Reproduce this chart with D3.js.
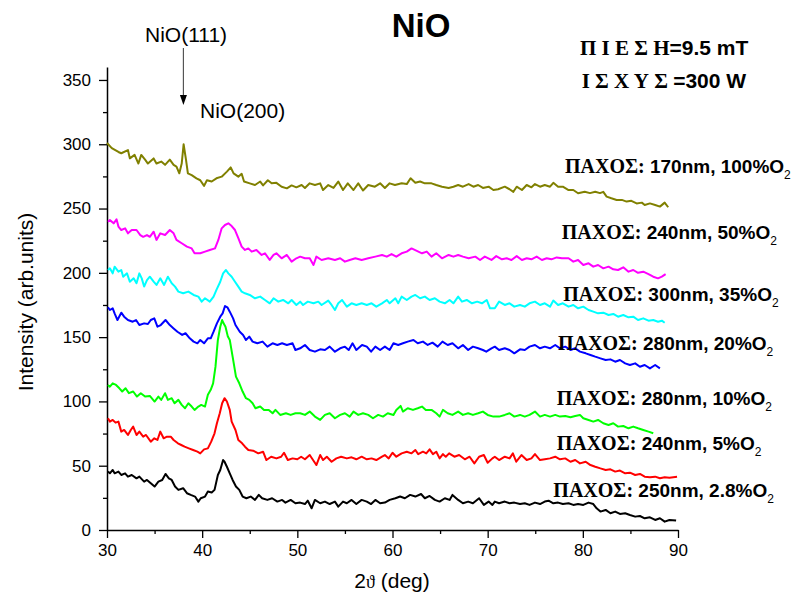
<!DOCTYPE html>
<html>
<head>
<meta charset="utf-8">
<script src="https://cdn.jsdelivr.net/npm/d3@7"></script>
<style>
  html, body { margin: 0; padding: 0; background: #fff; }
  svg { display: block; }
</style>
</head>
<body>
<svg id="chart" width="796" height="600"></svg>
<script>
// ---------- DATA ----------
const xTicks = [30, 40, 50, 60, 70, 80, 90];
const yTicks = [0, 50, 100, 150, 200, 250, 300, 350];

const seriesNames = ["100%O2", "50%O2", "35%O2", "20%O2", "10%O2", "5%O2", "2.8%O2"];
const seriesColors = ["#808000", "#ff00ff", "#00ffff", "#0000ff", "#00ff00", "#ff0000", "#000000"];
const thickness = ["170nm", "240nm", "300nm", "280nm", "280nm", "240nm", "250nm"];
const oxygen = ["100%", "50%", "35%", "20%", "10%", "5%", "2.8%"];

const olive = [[30.0,301],[30.5,297],[31.2,294],[31.5,293],[32.2,295.5],[32.4,289],[32.9,291.7],[33.3,285],[33.6,291.7],[34.0,288],[34.3,285],[34.9,289],[35.2,285],[35.7,286.5],[36.1,284],[36.6,288],[37.0,284],[37.3,282.6],[37.6,277.4],[37.85,285],[38.05,300],[38.3,288],[38.5,277.4],[38.9,276],[39.4,273.5],[39.8,272],[40.2,267.6],[40.5,272],[41.0,271],[41.5,273.5],[42.05,274.8],[42.6,278.7],[43.0,282],[43.3,277.4],[43.8,274.8],[44.15,277],[44.4,271],[45.0,269.6],[45.55,268.3],[46.1,271],[46.4,268],[46.9,272],[47.3,269.6],[47.8,270],[48.35,267],[48.9,265.7],[49.4,268],[49.9,266.5],[50.45,268.3],[50.8,266],[51.3,269.6],[51.85,268.3],[52.4,269.6],[52.7,264.4],[53.25,268.3],[53.8,266],[54.3,271],[54.8,264.4],[55.3,269.6],[55.9,264.4],[56.4,269.6],[56.9,264],[57.45,268.3],[58.15,267],[58.7,269.6],[59.2,266],[59.7,269.6],[60.26,268.3],[60.96,269.6],[61.5,269],[61.9,273.5],[62.4,270],[62.9,271],[63.4,269.6],[64.1,269.6],[64.6,268.3],[65.2,267],[65.9,266],[66.4,267],[66.9,268.3],[67.4,267],[68.0,269],[68.5,267],[69.0,268.3],[69.5,266],[70.1,267],[70.6,264.4],[71.1,265],[71.8,267],[72.3,265],[72.7,263],[73.05,267],[73.6,264.4],[74.1,268.3],[74.6,266.5],[74.97,269],[75.5,267],[76.0,268.3],[76.55,267],[76.9,270],[77.4,267],[77.9,267],[78.5,264.4],[79.0,264.4],[79.5,261.9],[80.2,263],[80.75,262],[81.3,263],[81.8,262],[82.15,263],[82.5,259.3],[83.0,258],[83.55,256.7],[84.1,256.7],[84.6,255.4],[85.1,256],[85.65,254],[86.2,254.6],[86.5,252.8],[87.05,254],[87.6,252.8],[88.1,251.5],[88.6,254.6],[88.97,251]];

const magenta = [[30.1,239.8],[30.3,241],[30.7,238.5],[31.0,241.6],[31.2,236],[31.5,233.3],[31.9,234.6],[32.2,230.7],[32.6,233.3],[33.1,233.3],[33.5,229.4],[33.8,228],[34.2,229.4],[34.5,228],[34.9,232],[35.2,225.6],[35.6,230.7],[36.1,229.4],[36.6,233.3],[37.0,230.7],[37.3,225.6],[37.85,223],[38.4,220.4],[38.9,219],[39.2,215.2],[39.8,215.2],[40.3,216.5],[40.8,217.8],[41.35,219],[41.7,225.6],[42.05,234.6],[42.4,237.2],[42.75,238.5],[43.1,236.4],[43.45,233.3],[43.8,226.9],[44.15,220.4],[44.5,217.8],[44.85,219],[45.2,216.5],[45.7,217.8],[46.25,213.9],[46.6,215.2],[47.1,210],[47.5,213.9],[47.8,215.2],[48.35,211.3],[48.9,213.9],[49.4,208.7],[49.9,211.3],[50.3,212.6],[50.8,211.3],[51.3,211.3],[51.7,206.1],[52.0,212.6],[52.55,210],[53.25,211.3],[53.95,210],[54.5,211.3],[55.0,208.7],[55.5,210],[56.1,211.3],[56.76,210],[57.45,211.3],[58.2,212.6],[58.9,213.9],[59.4,212.6],[59.9,214.6],[60.4,212.6],[60.96,215.2],[61.5,216.5],[62.0,219],[62.5,217.3],[63.1,215.2],[63.6,216.5],[64.1,212.6],[64.6,215.2],[65.2,211.3],[65.9,213.9],[66.4,212.6],[66.9,213.9],[67.4,212.6],[68.0,211.3],[68.7,212.6],[69.2,210],[69.7,212.6],[70.4,210],[70.9,213],[71.5,210.5],[72.0,211.3],[72.5,210],[73.05,213],[73.6,210],[74.1,211.3],[74.6,210.5],[75.15,212.6],[75.7,210],[76.2,211.3],[76.7,210.5],[77.25,212],[77.8,211.3],[78.5,211.3],[79.0,208.7],[79.5,210],[80.05,206.1],[80.6,207.4],[81.1,204.8],[81.6,206.1],[82.15,203.5],[82.7,204.8],[83.2,202.7],[83.7,202.2],[84.25,204.3],[84.8,200.9],[85.3,202.2],[85.8,200],[86.35,200.9],[86.9,199],[87.4,197],[87.9,195.7],[88.3,197],[88.7,199]];

const cyan = [[30.1,202.2],[30.3,203.5],[30.6,199.6],[30.8,204.8],[31.2,200.9],[31.5,202.2],[31.7,197],[32.1,199.6],[32.4,193.1],[32.8,195.7],[33.1,191.9],[33.4,199.6],[33.65,195.7],[33.9,189.3],[34.2,194.4],[34.5,197],[34.9,193.1],[35.2,190.6],[35.6,195.7],[36.0,190.6],[36.4,197],[36.8,191.9],[37.15,189.3],[37.5,185.4],[38.0,184.1],[38.55,185.4],[39.1,182.8],[39.6,181.5],[39.95,177.6],[40.3,180.2],[40.8,177.6],[41.2,181.5],[41.5,186.7],[41.9,193.1],[42.2,199.6],[42.5,202.2],[42.75,199.6],[43.1,197],[43.45,193.1],[43.8,189.3],[44.15,185.4],[44.5,184.1],[45.0,182.8],[45.55,180.2],[46.1,181.5],[46.6,178.9],[47.1,176.3],[47.5,180.2],[48.0,177.6],[48.5,178.9],[49.05,176.3],[49.4,178.9],[49.9,175],[50.3,177.6],[50.6,175],[51.1,177.6],[51.7,176.3],[52.2,177.6],[52.55,175],[53.25,178.4],[53.6,175],[53.95,171.1],[54.3,176.3],[54.7,178.9],[55.2,173.7],[55.7,176.3],[56.2,175],[56.76,176.3],[57.3,175],[57.8,176.3],[58.3,173.7],[58.9,176.3],[59.4,178.9],[59.7,176.3],[60.3,180.2],[60.6,176.3],[60.96,181.5],[61.5,178.9],[62.0,181.5],[62.4,182.8],[62.9,180.2],[63.4,181.5],[63.9,178.9],[64.45,180.2],[64.95,177.6],[65.5,176.3],[66.0,178.9],[66.4,176.3],[66.9,181.5],[67.3,177.6],[67.8,178.9],[68.35,176.3],[68.9,177.6],[69.4,176.3],[69.9,178.9],[70.25,172.4],[70.75,172.4],[71.2,177.6],[71.8,175],[72.3,176.3],[72.8,173.7],[73.4,175],[73.9,173.7],[74.4,176.3],[74.97,177.6],[75.5,175],[76.0,176.3],[76.55,173.7],[76.9,178.4],[77.4,175],[77.9,176.3],[78.5,173.7],[79.0,175],[79.5,172.4],[80.05,173.7],[80.6,171.1],[81.1,169.8],[81.6,168.5],[82.15,169],[82.7,167.2],[83.2,168],[83.7,165.9],[84.25,167.2],[84.8,165.4],[85.3,165.9],[85.8,163.3],[86.35,164.6],[86.9,162.8],[87.4,163.3],[87.9,162],[88.3,162.8],[88.6,161.2]];

const blue = [[30.1,173.2],[30.3,171.1],[30.6,172.4],[30.8,168.5],[31.1,163.3],[31.5,169],[31.8,165.9],[32.2,163.3],[32.7,162],[33.05,163.3],[33.4,159.4],[33.9,160.7],[34.3,160.2],[34.6,163.3],[34.97,164.6],[35.3,158.1],[35.65,159.4],[36.15,163.3],[36.6,159.4],[37.0,156.8],[37.4,154.2],[37.9,151.7],[38.25,153],[38.7,149.1],[39.1,146.5],[39.5,145.2],[39.8,147.8],[40.2,145.2],[40.6,149.1],[40.9,149.1],[41.2,154.2],[41.55,160.7],[41.9,165.9],[42.15,168.5],[42.4,174.2],[42.65,173.2],[42.9,169.8],[43.25,164.6],[43.5,159.4],[43.95,154.2],[44.3,151.7],[44.6,147.8],[44.95,150.4],[45.3,146.5],[45.8,145.2],[46.35,146.5],[46.85,142.6],[47.4,145.2],[47.9,143.9],[48.4,145.2],[48.9,143.9],[49.5,145.2],[49.8,140],[50.3,141.3],[50.8,143.9],[51.3,140],[51.85,138.7],[52.4,140.5],[52.9,140],[53.4,142.6],[53.95,138.7],[54.5,141.3],[55.0,142.6],[55.4,140],[55.8,145.2],[56.2,140],[56.8,143.9],[57.3,142.6],[57.75,138.7],[58.2,142.6],[58.7,140],[59.2,142.6],[59.7,140],[60.1,145.2],[60.6,143.9],[61.1,145.2],[61.6,146.5],[62.2,147.8],[62.65,145.2],[63.2,146.5],[63.7,143.9],[64.2,145.7],[64.75,142.6],[65.25,146.5],[65.8,143.9],[66.3,145.2],[66.9,141.3],[67.4,143.9],[67.95,140],[68.45,142.6],[69.0,141.3],[69.5,140],[69.85,138.7],[70.4,141.3],[70.75,142.6],[71.2,140],[71.8,141.3],[72.3,140],[72.8,137.4],[73.4,140.5],[73.9,140],[74.4,142.6],[74.97,143.9],[75.5,141.3],[76.0,142.6],[76.55,141.3],[77.1,143.9],[77.6,141.3],[78.15,142.6],[78.7,140],[79.2,141.3],[79.7,138.7],[80.3,137.4],[80.8,136.1],[81.3,134.8],[81.85,133.5],[82.4,132.2],[82.9,132.7],[83.4,130.9],[83.9,132.2],[84.45,129.6],[84.95,128.3],[85.5,129.6],[86.0,127],[86.5,128.3],[87.05,125.7],[87.6,128.3],[88.1,125.7]];

const green = [[30.1,112.8],[30.3,111.5],[30.6,114.1],[30.95,112.8],[31.3,110.2],[31.6,107.7],[31.95,110.2],[32.3,106.4],[32.75,107.7],[33.15,103.8],[33.55,106.4],[34.0,103.8],[34.5,104.3],[35.0,99.9],[35.4,103.8],[35.7,101.2],[36.1,106.4],[36.4,101.2],[36.8,102.5],[37.1,98.6],[37.5,101.2],[37.85,97.3],[38.2,94.7],[38.55,98.6],[38.9,96],[39.2,93.4],[39.6,96],[39.9,97.3],[40.3,96],[40.6,105.1],[40.9,109],[41.15,114.1],[41.4,127],[41.65,147.8],[41.9,158.1],[42.1,163.3],[42.25,160.7],[42.45,158.1],[42.7,150.4],[42.9,147.8],[43.2,134.8],[43.55,119.3],[43.9,114.1],[44.25,107.7],[44.6,102.5],[44.95,101.2],[45.3,98.6],[45.6,94.7],[46.1,96],[46.5,93.4],[47.0,93.4],[47.4,90.8],[47.7,93.4],[48.2,89.5],[48.8,90.8],[49.3,89.5],[49.8,90.8],[50.3,90.8],[50.8,89.5],[51.3,92.1],[51.85,88.2],[52.4,85.6],[52.9,89.5],[53.4,90.8],[53.95,86.9],[54.5,89.5],[55.0,90.8],[55.5,88.2],[55.9,92.1],[56.4,89.5],[56.9,90.8],[57.45,89.5],[57.95,86.9],[58.5,89.5],[59.0,88.2],[59.5,90.8],[60.1,89.5],[60.4,93.4],[60.85,96.5],[61.1,92.1],[61.6,94.7],[62.15,93.4],[62.65,94.7],[63.1,96],[63.5,93.4],[64.1,93.4],[64.6,90.8],[64.95,88.2],[65.3,93.4],[65.8,90.8],[66.3,89.5],[66.9,92.1],[67.4,89.5],[67.95,90.8],[68.45,89.5],[69.0,90.8],[69.5,92.1],[70.0,89.5],[70.6,88.2],[71.2,88.2],[71.8,89.5],[72.3,90.8],[72.8,88.2],[73.4,89.5],[73.9,88.2],[74.4,89.5],[74.97,92.1],[75.5,88.2],[76.0,89.5],[76.55,88.2],[77.1,89.5],[77.6,88.2],[78.15,88.7],[78.7,87.7],[79.2,88.7],[79.7,89.5],[80.05,86.9],[80.6,85.6],[81.1,84.3],[81.6,85.6],[82.15,83],[82.7,81.7],[83.2,83],[83.7,80.4],[84.25,80.9],[84.8,79.1],[85.3,80.4],[85.8,79.1],[86.35,77.8],[86.9,76.5],[87.4,75.2]];

const red = [[30.1,86.9],[30.3,84.3],[30.6,85.6],[30.9,83.5],[31.2,84.3],[31.5,76.5],[31.8,77.8],[32.2,73.9],[32.5,77.8],[32.75,80.4],[33.1,73.9],[33.4,76.5],[33.8,72.6],[34.1,73.9],[34.6,68.7],[34.97,71.3],[35.3,70],[35.6,76.5],[35.95,71.3],[36.3,72.6],[36.7,72.6],[37.0,70],[37.45,67.4],[37.8,66.1],[38.15,64.8],[38.6,63.5],[39.05,62.2],[39.5,60.9],[39.8,59.6],[40.2,62.7],[40.6,63.5],[40.95,68.7],[41.3,75.2],[41.55,83],[41.85,90.8],[42.1,98.6],[42.35,102.5],[42.6,99.9],[42.9,93.4],[43.1,84.3],[43.5,77.8],[43.8,70],[44.2,67.4],[44.5,64.8],[44.85,62.2],[45.35,61.7],[45.9,59.6],[46.4,60.9],[46.75,54.4],[47.25,57],[47.8,55.7],[48.3,57],[48.6,60.1],[49.0,54.4],[49.5,55.7],[50.0,55],[50.4,57],[50.8,55],[51.3,58.3],[51.65,54.4],[52.0,50.5],[52.4,58.3],[52.7,54.4],[53.1,57],[53.6,53.1],[54.1,55.7],[54.6,57],[55.2,55.7],[55.7,56.5],[56.2,55],[56.76,57],[57.3,55],[57.8,55.7],[58.3,54.4],[58.9,57],[59.2,58.3],[59.6,55.7],[60.0,60.1],[60.4,57],[60.96,59.6],[61.5,60.9],[62.0,59.6],[62.4,62.2],[62.7,59],[63.2,60.9],[63.55,59.6],[63.9,62.7],[64.25,59],[64.6,60.9],[64.95,55.7],[65.3,59],[65.6,57],[65.95,59.6],[66.5,57],[67.0,58.3],[67.6,55],[68.1,57],[68.6,51.8],[69.1,57],[69.6,58.3],[70.0,52.3],[70.5,55.7],[70.75,57],[71.2,54.4],[71.8,57],[72.3,55.7],[72.65,59.6],[73.0,53.1],[73.55,58.3],[74.1,54.4],[74.6,55.7],[74.97,59],[75.5,54.4],[76.0,55],[76.55,55.7],[77.1,57],[77.6,55],[78.15,55.7],[78.7,53.1],[79.2,54.4],[79.7,51.8],[80.3,53.1],[80.8,50.5],[81.3,49.2],[81.85,47.9],[82.4,46.7],[82.9,47.2],[83.4,45.4],[83.9,46.2],[84.45,44.1],[84.95,44.6],[85.5,42.8],[86.0,43.6],[86.5,41.5],[87.05,41],[87.6,41.5],[88.1,40.2],[88.6,41],[89.1,40.7],[89.9,41.5]];

const black = [[30.1,45.4],[30.3,44.1],[30.6,46.7],[30.8,44.1],[31.2,45.4],[31.5,42.8],[31.9,44.1],[32.2,41.5],[32.6,42.8],[33.1,40.2],[33.4,41.5],[33.9,37.6],[34.2,38.9],[34.6,36.3],[35.0,33.8],[35.4,37.6],[35.8,38.9],[36.15,43.6],[36.5,40.2],[36.8,38.9],[37.15,33.8],[37.5,31.2],[38.0,32.5],[38.4,28.6],[38.8,27.3],[39.25,26],[39.6,22.1],[39.85,24.7],[40.3,26],[40.6,29.9],[41.0,29.1],[41.3,31.2],[41.65,42.8],[41.9,46.7],[42.2,54.4],[42.35,53.1],[42.6,49.2],[42.9,44.1],[43.2,38.9],[43.55,33.8],[43.9,31.2],[44.25,26],[44.65,24.7],[45.1,26],[45.55,23.4],[45.95,27.3],[46.3,24.7],[46.85,23.4],[47.35,24.7],[47.9,22.1],[48.4,23.4],[48.75,21.3],[49.3,23.4],[49.8,20.8],[50.3,21.3],[50.8,20.2],[51.1,22.8],[51.5,16.9],[51.85,23.4],[52.4,20.8],[52.9,22.1],[53.4,20.2],[53.95,22.1],[54.3,18.2],[54.8,22.1],[55.2,20.8],[55.7,23.4],[56.2,20.2],[56.76,23.4],[57.3,22.1],[57.75,20.2],[58.2,23.4],[58.7,20.8],[59.2,21.3],[59.7,23.4],[60.3,24.7],[60.8,26],[61.3,24.7],[61.85,27.3],[62.4,26],[63.0,28],[63.4,24.7],[63.9,26.5],[64.45,23.4],[64.95,22.1],[65.5,24.7],[66.0,23.4],[66.3,27.3],[66.9,23.4],[67.4,20.8],[67.95,22.1],[68.45,20.8],[69.1,24.7],[69.6,19.5],[70.1,22.1],[70.5,19.5],[70.75,22.1],[71.2,20.8],[71.8,22.1],[72.3,20.8],[72.8,21.3],[73.4,20.2],[73.9,20.8],[74.4,19.5],[74.97,21.3],[75.5,20.2],[76.0,22.1],[76.4,22.8],[76.9,20.8],[77.4,21.3],[77.9,20.2],[78.5,20.8],[79.0,19.5],[79.5,20.2],[80.05,19.5],[80.6,21.3],[81.1,20.2],[81.45,16.9],[81.85,14.3],[82.4,15.6],[82.9,13],[83.4,14.3],[83.9,12.5],[84.45,13],[84.95,11.7],[85.5,10.4],[86.0,10.9],[86.5,9.1],[87.05,9.9],[87.6,7.8],[88.1,9.1],[88.6,6.5],[89.1,7.8],[89.8,7.3]];

const allSeries = [olive, magenta, cyan, blue, green, red, black];

// label anchors in data units (2theta, intensity)
const labelAnchors = [[78.12,277.7],[77.78,226.3],[77.95,178.1],[77.39,140],[77.25,97.2],[77.25,62.2],[76.9,25.7]];

// ---------- LAYOUT ----------
const svg = d3.select("#chart");
const sansFont = "'Liberation Sans', Arial, sans-serif";
const serifFont = "'Liberation Serif', 'Times New Roman', serif";

const x = d3.scaleLinear().domain([30, 90]).range([107, 678]);
const y = d3.scaleLinear().domain([0, 360]).range([530, 67.1]);

// minor ticks
const xMinor = d3.range(35, 90, 10);
const yMinor = d3.range(25, 350, 50);

svg.append("g").attr("transform", "translate(0,530)")
  .call(d3.axisBottom(x).tickValues(xMinor).tickSize(4).tickFormat(""))
  .call(g => g.select(".domain").remove())
  .call(g => g.selectAll("line").attr("stroke", "#000").attr("stroke-width", 1.3));
svg.append("g").attr("transform", "translate(107,0)")
  .call(d3.axisLeft(y).tickValues(yMinor).tickSize(4).tickFormat(""))
  .call(g => g.select(".domain").remove())
  .call(g => g.selectAll("line").attr("stroke", "#000").attr("stroke-width", 1.3));

const xAxis = svg.append("g").attr("transform", "translate(0,530)")
  .call(d3.axisBottom(x).tickValues(xTicks).tickSize(8).tickSizeOuter(0).tickPadding(6).tickFormat(d3.format("d")));
const yAxis = svg.append("g").attr("transform", "translate(107,0)")
  .call(d3.axisLeft(y).tickValues(yTicks).tickSize(8).tickSizeOuter(0).tickPadding(8).tickFormat(d3.format("d")));

[xAxis, yAxis].forEach(g => {
  g.select(".domain").attr("stroke", "#000").attr("stroke-width", 1.5);
  g.selectAll(".tick line").attr("stroke", "#000").attr("stroke-width", 1.3);
  g.selectAll(".tick text").attr("font-family", sansFont).attr("font-size", 17).attr("fill", "#000");
});

// lines
const line = d3.line().x(d => x(d[0])).y(d => y(d[1]));
svg.append("g").selectAll("path").data(allSeries).join("path")
  .attr("d", line)
  .attr("fill", "none")
  .attr("stroke", (d, i) => seriesColors[i])
  .attr("stroke-width", 2)
  .attr("stroke-linejoin", "round");

// series labels
const lbl = svg.append("g").selectAll("text").data(labelAnchors).join("text")
  .attr("x", d => x(d[0]))
  .attr("y", d => y(d[1]))
  .attr("font-weight", "bold")
  .attr("font-size", 19)
  .attr("fill", "#000");
lbl.append("tspan").attr("font-family", serifFont).attr("font-size", 20).text("ΠΑΧΟΣ:");
lbl.append("tspan").attr("font-family", sansFont).text((d, i) => " " + thickness[i] + ", " + oxygen[i] + "O");
lbl.append("tspan").attr("font-family", sansFont).attr("font-weight", "normal")
  .attr("font-size", 12).attr("dy", 6).text("2");

// title
svg.append("text").attr("x", 421).attr("y", 37).attr("text-anchor", "middle")
  .attr("font-family", sansFont).attr("font-weight", "bold").attr("font-size", 33).text("NiO");

// conditions (top right)
const cond1 = svg.append("text").attr("x", 580).attr("y", 55).attr("font-weight", "bold").attr("font-size", 21);
cond1.append("tspan").attr("font-family", serifFont).text("Π Ι Ε Σ Η");
cond1.append("tspan").attr("font-family", sansFont).text("=9.5 mT");
const cond2 = svg.append("text").attr("x", 581.7).attr("y", 88).attr("font-weight", "bold").attr("font-size", 21);
cond2.append("tspan").attr("font-family", serifFont).text("Ι Σ Χ Υ Σ ");
cond2.append("tspan").attr("font-family", sansFont).text("=300 W");

// peak annotations
svg.append("text").attr("x", 145).attr("y", 41.7).attr("font-family", sansFont).attr("font-size", 21).text("NiO(111)");
svg.append("text").attr("x", 200).attr("y", 118).attr("font-family", sansFont).attr("font-size", 21).text("NiO(200)");
const ax = x(38.03);
svg.append("line").attr("x1", ax).attr("x2", ax).attr("y1", 48).attr("y2", 97)
  .attr("stroke", "#555").attr("stroke-width", 1.2);
svg.append("path").attr("d", `M${ax-3.5},95 L${ax+3.5},95 L${ax},105 Z`).attr("fill", "#000");

// axis titles
svg.append("text").attr("transform", "translate(33,302) rotate(-90)").attr("text-anchor", "middle")
  .attr("font-family", sansFont).attr("font-size", 21).text("Intensity (arb.units)");
const xt = svg.append("text").attr("x", 392).attr("y", 588).attr("text-anchor", "middle").attr("font-size", 21);
xt.append("tspan").attr("font-family", sansFont).text("2");
xt.append("tspan").attr("font-family", serifFont).attr("font-size", 18).text("ϑ");
xt.append("tspan").attr("font-family", sansFont).text(" (deg)");
</script>
</body>
</html>
